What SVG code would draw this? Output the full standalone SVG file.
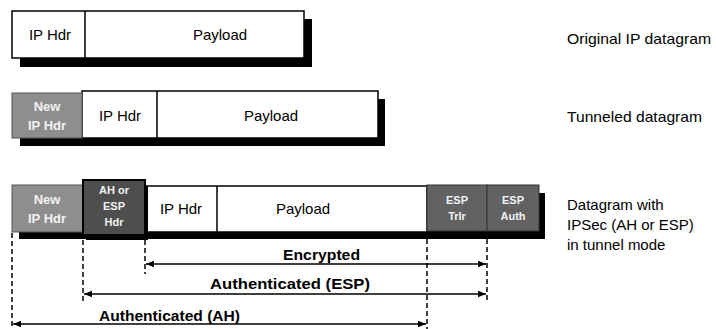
<svg xmlns="http://www.w3.org/2000/svg" width="716" height="329" viewBox="0 0 716 329">
<style>
.box{fill:#fff;stroke:#000;stroke-width:1.5}
.sh{fill:#000}
.g1{fill:#8e8e8e;stroke:#555;stroke-width:1}
.g2{fill:#4e4e4e;stroke:#000;stroke-width:2}
.g3{fill:#626262;stroke:#333;stroke-width:1}
.t{font-family:"Liberation Sans",Arial,sans-serif;font-size:15px;fill:#000;text-anchor:middle}
.w{font-family:"Liberation Sans",Arial,sans-serif;font-size:13px;font-weight:bold;fill:#f2f2f2;text-anchor:middle}
.ws{font-family:"Liberation Sans",Arial,sans-serif;font-size:11px;font-weight:bold;fill:#f2f2f2;text-anchor:middle}
.lab{font-family:"Liberation Sans",Arial,sans-serif;font-size:15px;fill:#000}
.al{font-family:"Liberation Sans",Arial,sans-serif;font-size:14px;font-weight:bold;fill:#000}
.d{stroke:#000;stroke-width:1.5;stroke-dasharray:5 3;fill:none}
.a{stroke:#000;stroke-width:1.6;fill:none;marker-start:url(#ah);marker-end:url(#ah)}
</style>
<defs>
<marker id="ah" viewBox="0 0 10 10" refX="10" refY="5" markerWidth="5" markerHeight="5" orient="auto-start-reverse" markerUnits="strokeWidth">
<path d="M0,1 L10,5 L0,9 z" fill="#000"/>
</marker>
</defs>
<rect width="716" height="329" fill="#fff"/>

<g id="row1">
<rect class="sh" x="20" y="19" width="292" height="48"/>
<rect class="box" x="12" y="11" width="292" height="47"/>
<line x1="85" y1="11" x2="85" y2="58" stroke="#000" stroke-width="1.5"/>
<text class="t" x="50" y="40">IP Hdr</text>
<text class="t" x="220" y="40">Payload</text>
</g>

<g id="row2">
<rect class="sh" x="20" y="99" width="365" height="47"/>
<rect class="box" x="82" y="91" width="296" height="47"/>
<rect class="g1" x="12" y="93" width="70" height="45"/>
<line x1="157" y1="91" x2="157" y2="138" stroke="#000" stroke-width="1.5"/>
<text class="w" x="47" y="111">New</text>
<text class="w" x="47" y="130">IP Hdr</text>
<text class="t" x="120" y="121">IP Hdr</text>
<text class="t" x="271" y="121">Payload</text>
</g>

<g id="row3">
<rect class="sh" x="19" y="193" width="526" height="46"/>
<rect class="box" x="145" y="186" width="282" height="46"/>
<line x1="217" y1="186" x2="217" y2="232" stroke="#000" stroke-width="1.5"/>
<rect class="g1" x="12" y="185" width="71" height="47"/>
<rect class="sh" x="86" y="186" width="62" height="54"/>
<rect class="g2" x="83" y="180" width="62" height="55"/>
<rect class="g3" x="427" y="185" width="60" height="46"/>
<rect class="g3" x="487" y="185" width="52" height="46"/>
<text class="w" x="47" y="204">New</text>
<text class="w" x="47" y="223">IP Hdr</text>
<text class="ws" x="114" y="194">AH or</text>
<text class="ws" x="114" y="210">ESP</text>
<text class="ws" x="114" y="226">Hdr</text>
<text class="t" x="181" y="214">IP Hdr</text>
<text class="t" x="303" y="214">Payload</text>
<text class="ws" x="457" y="204">ESP</text>
<text class="ws" x="457" y="220">Trlr</text>
<text class="ws" x="513" y="204">ESP</text>
<text class="ws" x="513" y="220">Auth</text>
</g>

<g id="connectors">
<line class="d" x1="12" y1="233" x2="12" y2="329"/>
<line class="d" x1="83" y1="240" x2="83" y2="302"/>
<line class="d" x1="145" y1="240" x2="145" y2="274"/>
<line class="d" x1="427" y1="239" x2="427" y2="329"/>
<line class="d" x1="487" y1="239" x2="487" y2="302"/>
<line class="a" x1="146" y1="264" x2="486" y2="264"/>
<line class="a" x1="84" y1="294" x2="486" y2="294"/>
<line class="a" x1="13" y1="324" x2="426" y2="324" stroke-width="2"/>
</g>

<g id="labels">
<text class="al" x="283" y="260" textLength="77" lengthAdjust="spacingAndGlyphs">Encrypted</text>
<text class="al" x="210" y="289" textLength="160" lengthAdjust="spacingAndGlyphs">Authenticated (ESP)</text>
<text class="al" x="99" y="321" textLength="141" lengthAdjust="spacingAndGlyphs">Authenticated (AH)</text>
<text class="lab" x="567" y="44" textLength="144" lengthAdjust="spacingAndGlyphs">Original IP datagram</text>
<text class="lab" x="567" y="122" textLength="135" lengthAdjust="spacingAndGlyphs">Tunneled datagram</text>
<text class="lab" x="567" y="210">Datagram with</text>
<text class="lab" x="567" y="230">IPSec (AH or ESP)</text>
<text class="lab" x="567" y="250">in tunnel mode</text>
</g>
</svg>
